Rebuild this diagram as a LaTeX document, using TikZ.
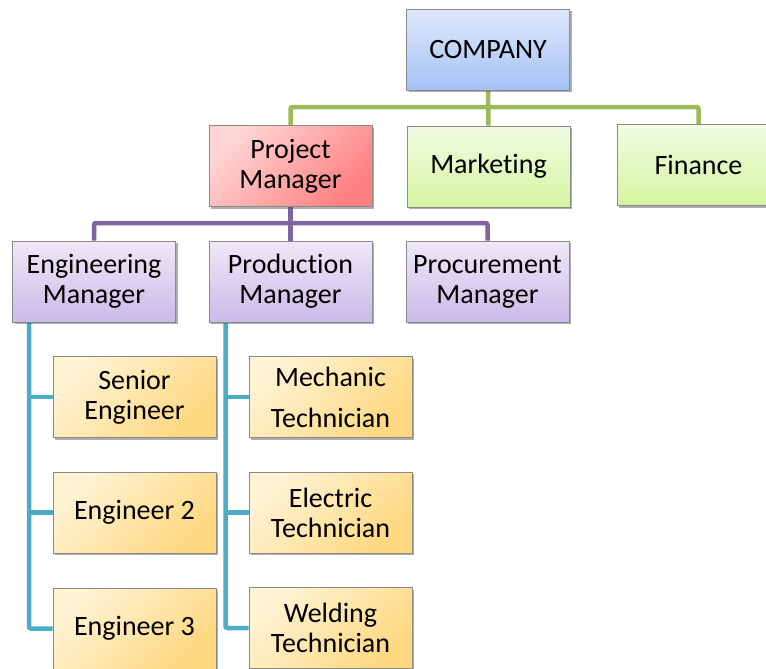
\documentclass[tikz,border=0pt]{standalone}
\usepackage{fontspec}
\setmainfont{Carlito}[RawFeature={-liga;-clig;-calt;-dlig}]
\usetikzlibrary{shadows}
\pgfdeclarelayer{background}
\pgfsetlayers{background,main}

% keeps "t" and "i" as separate glyphs
\newcommand{\tiSep}{t\kern0pt i}

\definecolor{lnGreen}{HTML}{9BBB59}
\definecolor{lnPurple}{HTML}{8064A2}
\definecolor{lnBlue}{HTML}{4BACC6}
\definecolor{boxEdge}{HTML}{8A8A8A}

\tikzset{
  orgbox/.style={draw=boxEdge, line width=0.9pt, minimum width=163pt,
    minimum height=81pt, inner sep=0pt, align=center,
    font=\fontsize{28}{30}\selectfont,
    drop shadow={shadow xshift=2pt, shadow yshift=-2pt, opacity=0.45, fill=black!70}},
  topbox/.style={orgbox, top color={rgb,255:red,221;green,232;blue,252}, bottom color={rgb,255:red,164;green,194;blue,246}},
  pmbox/.style={orgbox, top color={rgb,255:red,255;green,214;blue,214}, bottom color={rgb,255:red,255;green,128;blue,128}, shading angle=45},
  deptbox/.style={orgbox, top color={rgb,255:red,242;green,252;blue,228}, bottom color={rgb,255:red,212;green,245;blue,160}},
  mgrbox/.style={orgbox, top color={rgb,255:red,238;green,232;blue,247}, bottom color={rgb,255:red,202;green,186;blue,232}},
  staffbox/.style={orgbox, top color={rgb,255:red,255;green,243;blue,212}, bottom color={rgb,255:red,255;green,216;blue,128}, shading angle=45},
  link/.style={line width=4.5pt, rounded corners=2pt},
}

\begin{document}
\begin{tikzpicture}[x=1pt, y=-1pt]
  \clip (0,0) rectangle (766,669);

  % level 0 and 1
  \node[topbox]   (company) at (488,50)    {COMPANY};
  \node[pmbox]    (pm)      at (290.5,166) {Project\\Manager};
  \node[deptbox]  (mkt)     at (488.5,166.5) {Marke\tiSep ng};
  \node[deptbox]  (fin)     at (698.5,165) {Finance};

  % managers
  \node[mgrbox]   (eng)     at (94,281.5)  {Engineering\\Manager};
  \node[mgrbox]   (prod)    at (290.5,281.5) {Produc\tiSep on\\Manager};
  \node[mgrbox]   (proc)    at (487.5,281.5) {Procurement\\Manager};

  % engineering staff
  \node[staffbox] (sen)     at (134.5,397) {Senior\\Engineer};
  \node[staffbox] (eng2)    at (134.5,512.5) {Engineer 2};
  \node[staffbox] (eng3)    at (134.5,628.5) {Engineer 3};

  % production staff
  \node[staffbox, font=\fontsize{28}{41}\selectfont] (mech) at (330.5,397) {Mechanic\\Technician};
  \node[staffbox] (elec)    at (330.5,512.5) {Electric\\Technician};
  \node[staffbox] (weld)    at (330.5,628) {Welding\\Technician};

  \begin{pgfonlayer}{background}
    % company to departments
    \draw[link, lnGreen] (pm.north) -- (pm.north |- 0,107) -- (fin.north |- 0,107) -- (fin.north);
    \draw[link, lnGreen] (company.south) -- (mkt.north);
    % project manager to managers
    \draw[link, lnPurple] (eng.north) -- (eng.north |- 0,223) -- (proc.north |- 0,223) -- (proc.north);
    \draw[link, lnPurple] (pm.south) -- (prod.north);
    % managers to staff
    \draw[link, lnBlue] (29,322) -- (29 ,628.5) -- (eng3.west);
    \draw[link, lnBlue] (29,397) -- (sen.west);
    \draw[link, lnBlue] (29,512.5) -- (eng2.west);
    \draw[link, lnBlue] (225.5,322) -- (225.5,628) -- (weld.west);
    \draw[link, lnBlue] (225.5,397) -- (mech.west);
    \draw[link, lnBlue] (225.5,512.5) -- (elec.west);
  \end{pgfonlayer}
\end{tikzpicture}
\end{document}
